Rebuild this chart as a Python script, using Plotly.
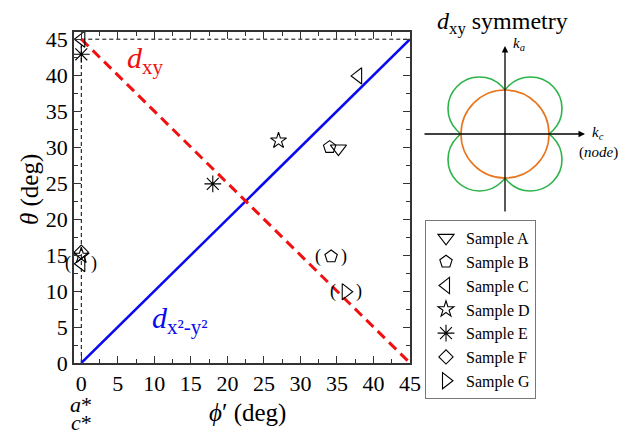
import plotly.graph_objects as go

# ---------------- data ----------------
sample_names = ["Sample A", "Sample B", "Sample C", "Sample D", "Sample E", "Sample F", "Sample G"]
A_phi = [35.2];              A_theta = [29.8];              A_paren = [False]
B_phi = [34.0, 34.2];        B_theta = [30.0, 14.8];        B_paren = [False, True]
C_phi = [37.9, 0.0, 0.0];    C_theta = [39.9, 45.0, 13.8];  C_paren = [False, False, True]
D_phi = [27.0, 0.0];         D_theta = [30.9, 14.9];        D_paren = [False, False]
E_phi = [18.0, 0.0];         E_theta = [24.9, 42.9];        E_paren = [False, False]
F_phi = [0.0];               F_theta = [15.4];              F_paren = [False]
G_phi = [36.2];              G_theta = [9.9];               G_paren = [True]

dx2y2_phi = [0, 45]; dx2y2_theta = [0, 45]
dxy_phi = [0, 45];   dxy_theta = [45, 0]
guide_h_phi = [0, 45]; guide_h_theta = [45, 45]
guide_v_phi = [0, 0];  guide_v_theta = [0, 45]

x_ticks = [0, 5, 10, 15, 20, 25, 30, 35, 40, 45]
y_ticks = [0, 5, 10, 15, 20, 25, 30, 35, 40, 45]

# inset schematic parameters (k-space, arbitrary units)
fs_radius = 44          # orange circle
lobe_center = 25.5      # green lobes centre offset along diagonals
lobe_radius = 31.5

# ---------------- styles ----------------
symbols = ["triangle-down-open", "pentagon-open", "triangle-left-open", "star-open",
           "asterisk-open", "diamond-open", "triangle-right-open"]
marker_sizes = [14, 13, 14, 12, 14, 11, 14]
FONT = "Liberation Serif"
W, H = 629, 436

def px(x):  # pixel -> paper x
    return x / W

def py(y):  # pixel -> paper y
    return (H - y) / H

fig = go.Figure()

# guide lines
fig.add_trace(go.Scatter(x=guide_h_phi, y=guide_h_theta, mode="lines",
                         line=dict(color="black", width=1, dash="4px,3px"), showlegend=False, hoverinfo="skip"))
fig.add_trace(go.Scatter(x=guide_v_phi, y=guide_v_theta, mode="lines",
                         line=dict(color="black", width=1, dash="4px,3px"), showlegend=False, hoverinfo="skip"))
# model lines
fig.add_trace(go.Scatter(x=dx2y2_phi, y=dx2y2_theta, mode="lines",
                         line=dict(color="#0a0af0", width=2.5), showlegend=False, hoverinfo="skip"))
fig.add_trace(go.Scatter(x=dxy_phi, y=dxy_theta, mode="lines",
                         line=dict(color="#f01010", width=3, dash="10px,6px"), showlegend=False, hoverinfo="skip"))

phis = [A_phi, B_phi, C_phi, D_phi, E_phi, F_phi, G_phi]
thetas = [A_theta, B_theta, C_theta, D_theta, E_theta, F_theta, G_theta]
parens = [A_paren, B_paren, C_paren, D_paren, E_paren, F_paren, G_paren]

for i, name in enumerate(sample_names):
    fig.add_trace(go.Scatter(
        x=phis[i], y=thetas[i], mode="markers", name=name, legendgroup=name,
        marker=dict(symbol=symbols[i], size=marker_sizes[i], color="black", line=dict(color="black", width=1.1)),
        cliponaxis=False,
    ))

annotations = []
# parentheses around uncertain points
for i in range(len(sample_names)):
    for p, t, flag in zip(phis[i], thetas[i], parens[i]):
        if flag:
            for txt, sh in (("(", -13), (")", 13)):
                annotations.append(dict(x=p, y=t, xref="x", yref="y", text=txt, showarrow=False,
                                        xshift=sh, yshift=0, font=dict(family=FONT, size=18, color="black")))

# text labels
annotations += [
    dict(x=px(125), y=py(60), xref="paper", yref="paper", xanchor="left", yanchor="middle",
         text="<i>d</i><sub>xy</sub>", showarrow=False, font=dict(family=FONT, size=30, color="#f01010")),
    dict(x=px(150), y=py(320), xref="paper", yref="paper", xanchor="left", yanchor="middle",
         text="<i>d</i><sub>x²-y²</sub>", showarrow=False, font=dict(family=FONT, size=30, color="#0a0af0")),
    dict(x=px(247), y=py(413), xref="paper", yref="paper", xanchor="center", yanchor="middle",
         text="<i>ϕ</i>′ (deg)", showarrow=False, font=dict(family=FONT, size=25, color="black")),
    dict(x=px(30), y=py(190), xref="paper", yref="paper", xanchor="center", yanchor="middle",
         text="<i>θ</i> (deg)", textangle=-90, showarrow=False, font=dict(family=FONT, size=25, color="black")),
    dict(x=px(81), y=py(404), xref="paper", yref="paper", xanchor="center", yanchor="middle",
         text="<i>a</i>*", showarrow=False, font=dict(family=FONT, size=22, color="black")),
    dict(x=px(81), y=py(422), xref="paper", yref="paper", xanchor="center", yanchor="middle",
         text="<i>c</i>*", showarrow=False, font=dict(family=FONT, size=22, color="black")),
    # inset title
    dict(x=px(502), y=py(23), xref="paper", yref="paper", xanchor="center", yanchor="middle",
         text="<i>d</i><sub>xy</sub> symmetry", showarrow=False, font=dict(family=FONT, size=24, color="black")),
    # inset axes arrows
    dict(x=80, y=0, ax=-82, ay=0, xref="x2", yref="y2", axref="x2", ayref="y2", showarrow=True,
         arrowhead=2, arrowsize=1, arrowwidth=1.3, arrowcolor="black", text=""),
    dict(x=0, y=88, ax=0, ay=-79, xref="x2", yref="y2", axref="x2", ayref="y2", showarrow=True,
         arrowhead=2, arrowsize=1, arrowwidth=1.3, arrowcolor="black", text=""),
    dict(x=px(511), y=py(44), xref="paper", yref="paper", xanchor="left", yanchor="middle",
         text="<i>k<sub>a</sub></i>", showarrow=False, font=dict(family=FONT, size=15, color="black")),
    dict(x=px(590), y=py(133), xref="paper", yref="paper", xanchor="left", yanchor="middle",
         text="<i>k<sub>c</sub></i>", showarrow=False, font=dict(family=FONT, size=15, color="black")),
    dict(x=px(598), y=py(152), xref="paper", yref="paper", xanchor="center", yanchor="middle",
         text="(<i>node</i>)", showarrow=False, font=dict(family=FONT, size=15, color="black")),
]

# inset shapes: four green lobes, then orange circle with white fill on top
shapes = []
for sx in (1, -1):
    for sy in (1, -1):
        cx, cy = sx * lobe_center, sy * lobe_center
        shapes.append(dict(type="circle", xref="x2", yref="y2",
                           x0=cx - lobe_radius, x1=cx + lobe_radius, y0=cy - lobe_radius, y1=cy + lobe_radius,
                           line=dict(color="#2db34a", width=1.6), fillcolor="rgba(0,0,0,0)"))
shapes.append(dict(type="circle", xref="x2", yref="y2",
                   x0=-fs_radius, x1=fs_radius, y0=-fs_radius, y1=fs_radius,
                   line=dict(color="#e8761e", width=1.6), fillcolor="white"))

axis_common = dict(
    showgrid=False, zeroline=False, showline=True, linecolor="#333", linewidth=1.5, mirror="ticks",
    ticks="inside", ticklen=7, tickwidth=1, tickcolor="#333",
    minor=dict(ticks="inside", ticklen=4, tickwidth=1, tickcolor="#333", dtick=2.5, showgrid=False),
    tickfont=dict(family=FONT, size=22, color="black"), automargin=False,
)

fig.update_layout(
    width=W, height=H, margin=dict(l=0, r=0, t=0, b=0),
    paper_bgcolor="white", plot_bgcolor="rgba(0,0,0,0)",
    font=dict(family=FONT, color="black"),
    xaxis=dict(range=[-1, 45], domain=[px(74), px(410)], tickvals=x_ticks, anchor="y", **axis_common),
    yaxis=dict(range=[0, 46], domain=[py(363), py(32)], tickvals=y_ticks, anchor="x", **axis_common),
    xaxis2=dict(range=[-100, 100], domain=[px(405), px(605)], visible=False, anchor="y2", fixedrange=True),
    yaxis2=dict(range=[-100, 100], domain=[py(234), py(34)], visible=False, anchor="x2", fixedrange=True),
    legend=dict(x=px(425), y=py(220), xanchor="left", yanchor="top", bgcolor="white",
                bordercolor="#777", borderwidth=1, font=dict(family=FONT, size=16, color="black"),
                tracegroupgap=0, itemsizing="trace", entrywidth=80),
    annotations=annotations, shapes=shapes, showlegend=True,
)

fig.write_html("out.html")
